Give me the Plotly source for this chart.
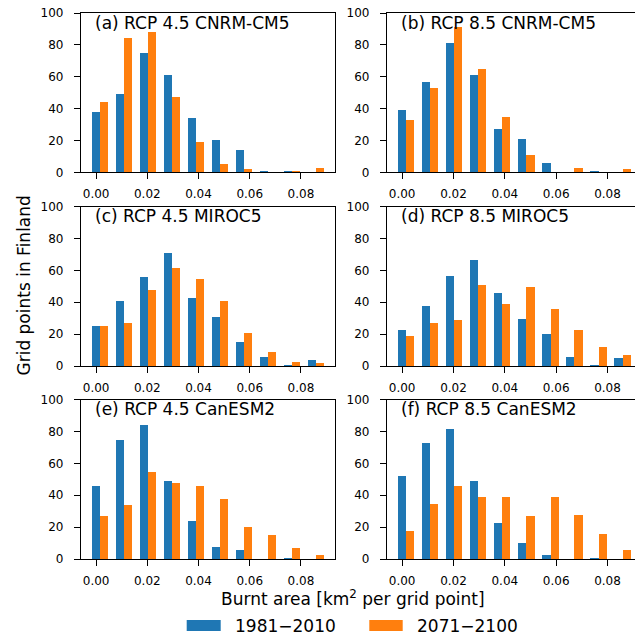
import plotly.graph_objects as go
from plotly.subplots import make_subplots

# bin positions (left-bar centres) of the histogram bins, km^2 per grid point
bins = [0.0000, 0.0093, 0.0187, 0.0280, 0.0374, 0.0468, 0.0562, 0.0655, 0.0749, 0.0843]

panel_titles = [
    "(a) RCP 4.5 CNRM-CM5", "(b) RCP 8.5 CNRM-CM5",
    "(c) RCP 4.5 MIROC5", "(d) RCP 8.5 MIROC5",
    "(e) RCP 4.5 CanESM2", "(f) RCP 8.5 CanESM2",
]

period_names = ["1981\u22122010", "2071\u22122100"]

# counts: historical (1981-2010)
hist_a = [38, 49, 75, 61, 34, 20, 14, 1, 1, 0]
hist_b = [39, 57, 81, 61, 27, 21, 6, 0, 1, 0]
hist_c = [25, 41, 56, 71, 43, 31, 15, 6, 1, 4]
hist_d = [23, 38, 57, 67, 46, 30, 20, 6, 1, 5]
hist_e = [46, 75, 84, 49, 24, 8, 6, 0, 1, 0]
hist_f = [52, 73, 82, 49, 23, 10, 3, 0, 1, 0]

# counts: future (2071-2100)
fut_a = [44, 84, 88, 47, 19, 5, 2, 0, 1, 3]
fut_b = [33, 53, 91, 65, 35, 11, 0, 3, 0, 2]
fut_c = [25, 27, 48, 62, 55, 41, 21, 9, 3, 2]
fut_d = [19, 27, 29, 51, 39, 50, 36, 23, 12, 7]
fut_e = [27, 34, 55, 48, 46, 38, 20, 15, 7, 3]
fut_f = [18, 35, 46, 39, 39, 27, 39, 28, 16, 6]

hist_all = [hist_a, hist_b, hist_c, hist_d, hist_e, hist_f]
fut_all = [fut_a, fut_b, fut_c, fut_d, fut_e, fut_f]

x_ticks = [0.00, 0.02, 0.04, 0.06, 0.08]
y_ticks = [0, 20, 40, 60, 80, 100]

BLUE = "#1f77b4"
ORANGE = "#ff7f0e"
COLORS = [BLUE, ORANGE]
FONT = "DejaVu Sans"

fig = make_subplots(rows=3, cols=2, horizontal_spacing=0.05, vertical_spacing=0.05)

bw = 0.0032
for i in range(6):
    r, c = i // 2 + 1, i % 2 + 1
    fig.add_trace(go.Bar(x=bins, y=hist_all[i], width=bw, offset=-0.0016,
                         marker=dict(color=BLUE, line=dict(width=0)),
                         name=period_names[0], showlegend=False),
                  row=r, col=c)
    fig.add_trace(go.Bar(x=bins, y=fut_all[i], width=bw, offset=0.0016,
                         marker=dict(color=ORANGE, line=dict(width=0)),
                         name=period_names[1], showlegend=False),
                  row=r, col=c)

W, H = 635, 639
ml, mr, mt, mb = 81, 0, 13, 80
pw = W - ml - mr
ph = H - mt - mb


def px_x(p):
    return (p - ml) / pw


def px_y(p):
    return (H - mb - p) / ph


col_dom = [[0.0, px_x(335)], [px_x(387), 1.0]]
row_dom = [[px_y(172.3), 1.0], [px_y(366), px_y(206.7)], [0.0, px_y(399.7)]]

annotations = []
for i in range(6):
    r, c = i // 2, i % 2
    idx = i + 1
    xa = "xaxis" if idx == 1 else f"xaxis{idx}"
    ya = "yaxis" if idx == 1 else f"yaxis{idx}"
    xr = [-0.0059, 0.0933] if c == 0 else [-0.0059, 0.0907]
    fig.layout[xa].update(domain=col_dom[c], range=xr, tickvals=x_ticks, tickformat=".2f",
                          ticks="outside", ticklen=6, tickwidth=1.2, tickcolor="black",
                          showline=True, linecolor="black", linewidth=1.3, mirror=True,
                          showgrid=False, zeroline=False, ticklabelstandoff=4,
                          tickfont=dict(family=FONT, size=12, color="black"))
    fig.layout[ya].update(domain=row_dom[r], range=[0, 100], tickvals=y_ticks,
                          ticks="outside", ticklen=6, tickwidth=1.2, tickcolor="black",
                          showline=True, linecolor="black", linewidth=1.3,
                          mirror=(c == 0), showgrid=False, zeroline=False,
                          ticklabelstandoff=8,
                          tickfont=dict(family=FONT, size=12, color="black"))
    annotations.append(dict(text=panel_titles[i], xref=f"x{idx}" if idx > 1 else "x",
                            yref=f"y{idx}" if idx > 1 else "y", x=-0.0012, y=94.0,
                            xanchor="left", yanchor="middle", showarrow=False,
                            font=dict(family=FONT, size=17, color="black")))

annotations.append(dict(text="Grid points in Finland", xref="paper", yref="paper",
                        x=px_x(23.5), y=px_y(286), textangle=-90,
                        xanchor="center", yanchor="middle", showarrow=False,
                        font=dict(family=FONT, size=17, color="black")))
annotations.append(dict(text="Burnt area [km<sup>2</sup> per grid point]", xref="paper", yref="paper",
                        x=px_x(352.5), y=px_y(598),
                        xanchor="center", yanchor="middle", showarrow=False,
                        font=dict(family=FONT, size=17, color="black")))

# figure legend (patches + labels), placed below the panels
shapes = []
leg_patch_x = [(186.7, 220.7), (369.3, 402.7)]
leg_text_x = [235, 417.3]
for k in range(2):
    shapes.append(dict(type="rect", xref="paper", yref="paper",
                       x0=px_x(leg_patch_x[k][0]), x1=px_x(leg_patch_x[k][1]),
                       y0=px_y(631), y1=px_y(620),
                       fillcolor=COLORS[k], line=dict(width=0)))
    annotations.append(dict(text=period_names[k], xref="paper", yref="paper",
                            x=px_x(leg_text_x[k] - 2), y=px_y(625.5),
                            xanchor="left", yanchor="middle", showarrow=False,
                            font=dict(family=FONT, size=17, color="black")))

fig.update_layout(
    width=W, height=H, margin=dict(l=ml, r=mr, t=mt, b=mb),
    paper_bgcolor="white", plot_bgcolor="white",
    barmode="overlay", bargap=0,
    annotations=annotations, shapes=shapes,
    showlegend=False,
    font=dict(family=FONT, color="black"),
)

fig.write_html("out.html")
